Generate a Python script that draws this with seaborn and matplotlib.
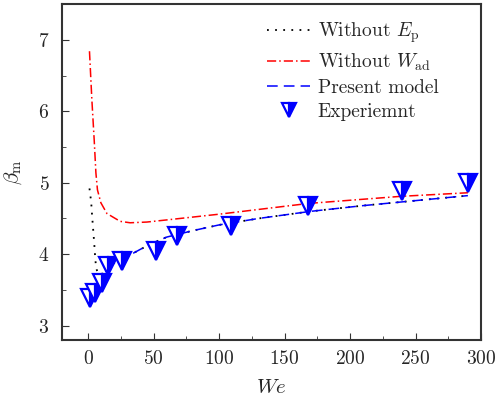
import numpy as np
import pandas as pd
import matplotlib
matplotlib.use("Agg")
import matplotlib.pyplot as plt
import seaborn as sns
from matplotlib.ticker import MultipleLocator

# Values
we_no_ep = [1.0, 2.3, 3.0, 3.8, 4.6, 5.3, 6.1, 8.0, 12, 15, 20, 30, 40, 50, 60, 80, 100, 110, 130, 170, 210, 250, 290]
beta_no_ep = [4.92, 4.73, 4.54, 4.35, 4.16, 3.97, 3.80, 3.72, 3.73, 3.80, 3.88, 3.97, 4.07, 4.16, 4.24, 4.33, 4.41, 4.44, 4.50, 4.60, 4.68, 4.75, 4.82]

we_no_wad = [1.0, 2.8, 4.6, 5.9, 7.1, 9.7, 14.3, 24.4, 32, 44.8, 60, 100, 168, 239, 290]
beta_no_wad = [6.84, 6.17, 5.60, 5.14, 4.90, 4.72, 4.57, 4.46, 4.44, 4.45, 4.48, 4.56, 4.71, 4.81, 4.86]

we_model = [0.5, 3, 6, 10, 15, 20, 30, 40, 50, 60, 80, 100, 110, 130, 170, 210, 250, 290]
beta_model = [3.35, 3.45, 3.55, 3.68, 3.80, 3.88, 3.97, 4.07, 4.16, 4.24, 4.33, 4.41, 4.44, 4.50, 4.60, 4.68, 4.75, 4.82]

we_exp = [1.5, 5.3, 10.7, 15.3, 26, 52, 68, 109, 168, 240, 290]
beta_exp = [3.39, 3.46, 3.60, 3.83, 3.90, 4.05, 4.25, 4.40, 4.67, 4.88, 5.00]

sns.set_style("ticks")
plt.rcParams["font.family"] = "serif"
plt.rcParams["font.serif"] = ["cmr10", "DejaVu Serif"]
plt.rcParams["mathtext.fontset"] = "cm"
plt.rcParams["axes.formatter.use_mathtext"] = True

fig = plt.figure(figsize=(4.97, 4.05), dpi=100)
ax = fig.add_axes([0.1247, 0.1605, 0.8431, 0.8295])

sns.lineplot(x=we_no_ep, y=beta_no_ep, ax=ax, sort=False, estimator=None, color="black",
             lw=1.3, label=r"Without $E_\mathrm{p}$")
ax.lines[-1].set_linestyle((0, (1, 3.5)))
sns.lineplot(x=we_no_wad, y=beta_no_wad, ax=ax, sort=False, estimator=None, color="red",
             lw=1.1, label=r"Without $W_\mathrm{ad}$")
ax.lines[-1].set_linestyle((0, (6, 2, 1, 2)))
sns.lineplot(x=we_model, y=beta_model, ax=ax, sort=False, estimator=None, color="blue",
             lw=1.1, label="Present model")
ax.lines[-1].set_linestyle((0, (7, 4)))
ax.plot(we_exp, beta_exp, ls="none", marker="v", ms=12.5, mew=1.6, color="blue",
        mfc="blue", mfcalt="white", fillstyle="right", label="Experiemnt")

ax.set_xlim(-20, 300)
ax.set_ylim(2.8, 7.5)
ax.xaxis.set_major_locator(MultipleLocator(50))
ax.xaxis.set_minor_locator(MultipleLocator(25))
ax.yaxis.set_major_locator(MultipleLocator(1))
ax.yaxis.set_minor_locator(MultipleLocator(0.5))
ax.tick_params(which="both", direction="in", labelsize=14, color="#333333")
ax.tick_params(which="major", length=5)
ax.tick_params(which="minor", length=3)
ax.tick_params(axis="x", pad=7)
ax.tick_params(axis="y", pad=9)
for s in ax.spines.values():
    s.set_linewidth(1.5)
    s.set_color("#333333")

ax.set_xlabel(r"$We$", fontsize=15, labelpad=8)
ax.set_ylabel(r"$\beta_\mathrm{m}$", fontsize=15, labelpad=10)

leg = ax.legend(loc="upper left", frameon=False, fontsize=14, handlelength=2.2,
                handletextpad=0.4, bbox_to_anchor=(0.49, 0.95), borderpad=0,
                borderaxespad=0, labelspacing=0.32, markerscale=0.8)

fig.savefig("out.png", dpi=100)
